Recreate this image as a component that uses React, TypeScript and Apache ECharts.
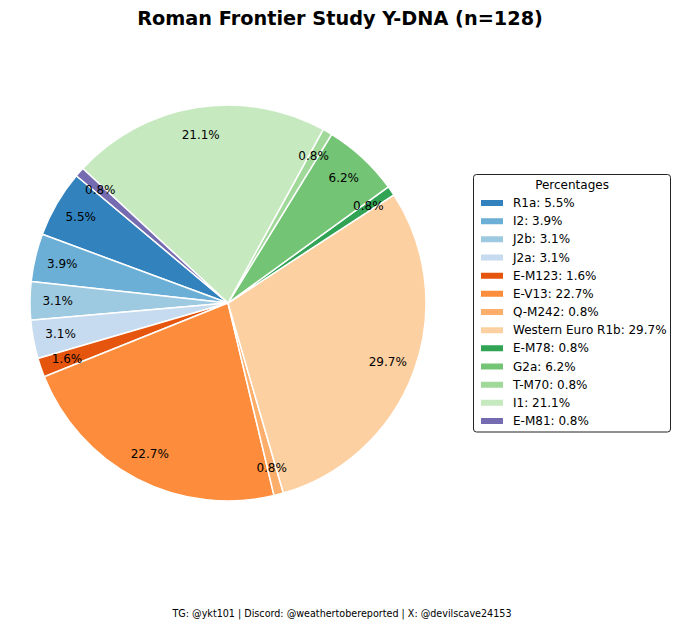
import React, { useEffect, useRef } from "react";
import * as echarts from "echarts";

const names = [
  "R1a", "I2", "J2b", "J2a", "E-M123", "E-V13", "Q-M242",
  "Western Euro R1b", "E-M78", "G2a", "T-M70", "I1", "E-M81",
];
const counts = [7, 5, 4, 4, 2, 29, 1, 38, 1, 8, 1, 27, 1];
const pctLabels = ["5.5", "3.9", "3.1", "3.1", "1.6", "22.7", "0.8", "29.7", "0.8", "6.2", "0.8", "21.1", "0.8"];
const colors = [
  "#3182bd", "#6baed6", "#9ecae1", "#c6dbef", "#e6550d", "#fd8d3c", "#fdae6b",
  "#fdd0a2", "#31a354", "#74c476", "#a1d99b", "#c7e9c0", "#756bb1",
];
const titleText = "Roman Frontier Study Y-DNA (n=128)";
const legendTitle = "Percentages";
const footerText = "TG: @ykt101 | Discord: @weathertobereported | X: @devilscave24153";

const FONT = "DejaVu Sans";

export default function App() {
  const ref = useRef<HTMLDivElement>(null);
  useEffect(() => {
    if (!ref.current) return;
    const chart = echarts.init(ref.current, undefined, { renderer: "svg" });
    const pctOf: Record<string, string> = {};
    names.forEach((n, i) => (pctOf[n] = pctLabels[i]));
    const mainData = names.map((n, i) => ({
      name: n,
      value: counts[i],
      itemStyle: { color: colors[i] },
    }));
    const labelData = names.map((n, i) => ({
      name: n,
      value: counts[i],
      label: { formatter: pctLabels[i] + "%" },
    }));
    const cx = 228;
    const cy = 303;
    const R = 198;
    chart.setOption({
      animation: false,
      backgroundColor: "#ffffff",
      title: {
        text: titleText,
        left: "center",
        top: 4,
        textStyle: { fontFamily: FONT, fontWeight: "bold", fontSize: 19.3, color: "#000" },
      },
      legend: {
        orient: "vertical",
        left: 479,
        top: 194,
        padding: 0,
        itemWidth: 24,
        itemHeight: 8,
        itemGap: 0.17,
        icon: "rect",
        selectedMode: false,
        data: names,
        formatter: (n: string) => `${n}: ${pctOf[n]}%`,
        textStyle: {
          fontFamily: FONT,
          fontSize: 12,
          color: "#000",
          lineHeight: 18,
          padding: [0, 0, 0, 4],
        },
      },
      graphic: [
        {
          type: "rect",
          x: 473.5,
          y: 174.5,
          shape: { x: 0, y: 0, width: 197, height: 257.5, r: 3 },
          style: { fill: "none", stroke: "#222", lineWidth: 1 },
          silent: true,
        },
        {
          type: "text",
          x: 572,
          y: 185,
          style: {
            text: legendTitle,
            font: `12px "${FONT}"`,
            fill: "#000",
            align: "center",
            verticalAlign: "middle",
          },
        },
        {
          type: "text",
          x: 342,
          y: 613,
          style: {
            text: footerText,
            font: `9.6px "${FONT}"`,
            fill: "#000",
            align: "center",
            verticalAlign: "middle",
          },
        },
      ],
      series: [
        {
          type: "pie",
          center: [cx, cy],
          radius: [0, R],
          startAngle: 140,
          clockwise: false,
          avoidLabelOverlap: false,
          label: { show: false },
          labelLine: { show: false },
          itemStyle: { borderColor: "#ffffff", borderWidth: 1.5 },
          emphasis: { disabled: true },
          data: mainData,
        },
        {
          type: "pie",
          center: [cx, cy],
          radius: [R * 0.69, R],
          startAngle: 140,
          clockwise: false,
          silent: true,
          avoidLabelOverlap: false,
          itemStyle: { color: "rgba(0,0,0,0)", borderWidth: 0 },
          label: {
            show: true,
            position: "inside",
            fontFamily: FONT,
            fontSize: 12,
            color: "#000",
          },
          labelLine: { show: false },
          emphasis: { disabled: true },
          data: labelData,
        },
      ],
    });
    return () => chart.dispose();
  }, []);
  return (
    <div
      ref={ref}
      style={{ position: "fixed", left: 0, top: 0, width: 680, height: 628 }}
    />
  );
}
